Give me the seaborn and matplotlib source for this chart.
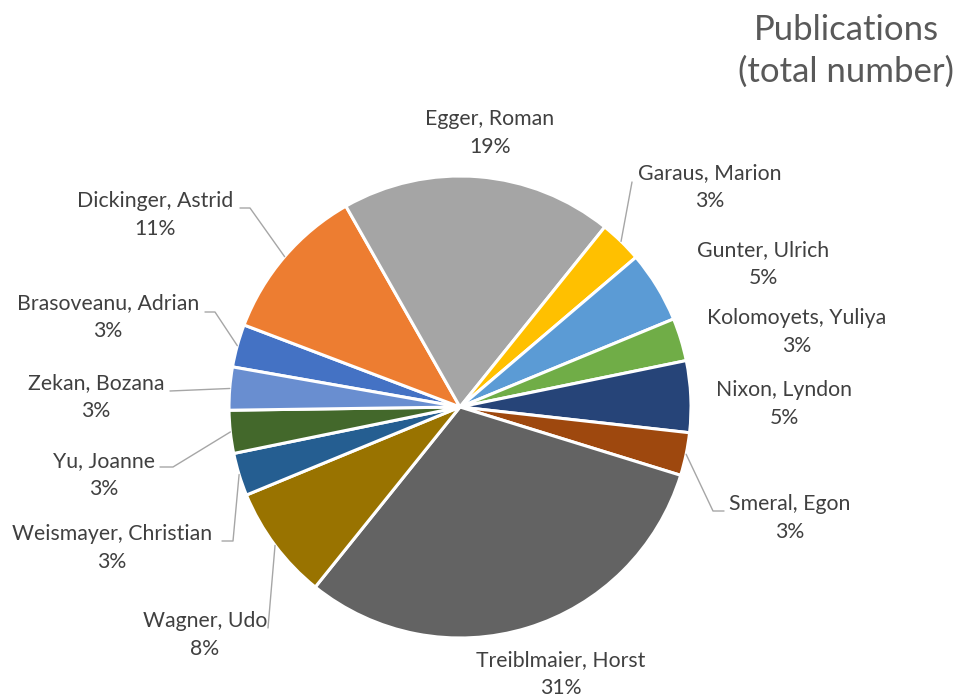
import numpy as np
import matplotlib.pyplot as plt
import seaborn as sns

# data
names = ['Brasoveanu, Adrian', 'Dickinger, Astrid', 'Egger, Roman', 'Garaus, Marion',
         'Gunter, Ulrich', 'Kolomoyets, Yuliya', 'Nixon, Lyndon', 'Smeral, Egon',
         'Treiblmaier, Horst', 'Wagner, Udo', 'Weismayer, Christian', 'Yu, Joanne',
         'Zekan, Bozana']
share = [3, 11, 19, 3, 5, 3, 5, 3, 31, 8, 3, 3, 3]
colors = ['#4472C4', '#ED7D31', '#A5A5A5', '#FFC000', '#5B9BD5', '#70AD47',
          '#264478', '#9E480E', '#636363', '#997300', '#255E91', '#43682B', '#698ED0']
title = 'Publications\n(total number)'

# layout (figure pixels)
W, H = 961, 698
cx, cy, R = 460, 407, 231
label_xy = [(108, 317), (155, 215), (490, 133), (710, 187), (763, 264), (797, 332),
            (784, 404), (790, 518), (561, 674), (205, 635), (112, 548), (104, 475),
            (96, 397)]
# leader line points (elbow, end) in pixels; None = no leader
leaders = [[(215, 312), (205, 312)], [(250, 208), (240, 208)], None, [(632, 182)],
           None, None, None, [(713, 511), (724, 511)], None, [(268, 628)],
           [(233, 541), (222, 541)], [(173, 467), (160, 467)], [(170, 391)]]


def to_data(p):
    return ((p[0] - cx) / R, (cy - p[1]) / R)


sns.set_style('white')
plt.rcParams['font.family'] = ['Lato', 'DejaVu Sans']

fig = plt.figure(figsize=(W / 100, H / 100), dpi=100)
ax = fig.add_axes([(cx - R) / W, (H - cy - R) / H, 2 * R / W, 2 * R / H])

wedges, _ = ax.pie(share, colors=colors, startangle=90 - 280, counterclock=False,
                   radius=1, wedgeprops=dict(edgecolor='white', linewidth=2.2))
ax.set_xlim(-1, 1)
ax.set_ylim(-1, 1)
ax.axis('off')

for w, name, p, pos, lead in zip(wedges, names, share, label_xy, leaders):
    x, y = to_data(pos)
    ax.text(x, y, f'{name}\n{p}%', ha='center', va='center', fontsize=15.3,
            color='#404040', linespacing=1.5, clip_on=False)
    if lead is not None:
        mid = np.deg2rad((w.theta1 + w.theta2) / 2)
        pts = [(np.cos(mid), np.sin(mid))] + [to_data(q) for q in lead]
        xs, ys = zip(*pts)
        ax.plot(xs, ys, color='#A6A6A6', lw=1, clip_on=False)

fig.text(846 / W, 1 - 51 / H, title, ha='center', va='center', fontsize=25,
         color='#595959', linespacing=1.35)

fig.savefig('out.png', dpi=100)
